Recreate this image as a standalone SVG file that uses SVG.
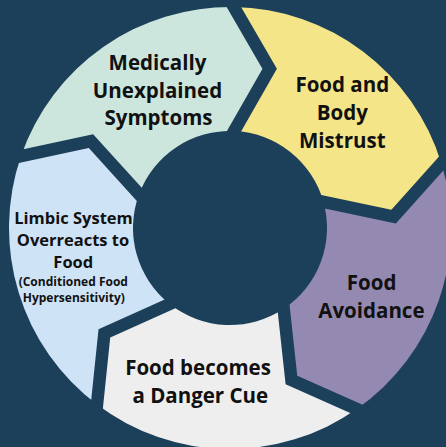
<svg xmlns="http://www.w3.org/2000/svg" width="446" height="447" viewBox="0 0 446 447">
<style>
.seg{stroke:none}
.gap{fill:none;stroke:#1c3f5a;stroke-width:12.5;stroke-linejoin:miter;stroke-miterlimit:10}
.lbl{font-family:"Open Sans","Noto Sans","Liberation Sans",sans-serif;font-weight:700;fill:#111111;text-anchor:middle}
.big{font-size:20.5px}
.mid{font-size:16.5px}
.sml{font-size:12px}
</style>
<rect x="0" y="0" width="446" height="447" fill="#1c3f5a"/>
<g id="node-medically">
<path class="seg" fill="#cce5dd" d="M139.08,194.19 L90.92,141.09 L21.04,156.05 A221,221 0 0 1 233.86,7.03 L269.68,68.87 L234.06,131.09 A97,97 0 0 0 139.08,194.19 Z"/>
</g>
<g id="node-mistrust">
<path class="seg" fill="#f4e589" d="M234.06,131.09 L269.68,68.87 L233.86,7.03 A221,221 0 0 1 441.34,163.39 L393.60,216.56 L323.43,201.91 A97,97 0 0 0 234.06,131.09 Z"/>
</g>
<g id="node-avoidance">
<path class="seg" fill="#9489b0" d="M323.43,201.91 L393.60,216.56 L441.34,163.39 A221,221 0 0 1 356.76,409.03 L291.44,380.06 L283.68,308.79 A97,97 0 0 0 323.43,201.91 Z"/>
</g>
<g id="node-danger">
<path class="seg" fill="#eeeeee" d="M283.68,308.79 L291.44,380.06 L356.76,409.03 A221,221 0 0 1 97.00,404.50 L104.37,333.42 L169.75,304.02 A97,97 0 0 0 283.68,308.79 Z"/>
</g>
<g id="node-limbic">
<path class="seg" fill="#cfe3f7" d="M169.75,304.02 L104.37,333.42 L97.00,404.50 A221,221 0 0 1 21.04,156.05 L90.92,141.09 L139.08,194.19 A97,97 0 0 0 169.75,304.02 Z"/>
</g>
<g id="connectors">
<polyline class="gap" points="226.94,143.53 269.68,68.87 223.11,-11.52"/>
<polyline class="gap" points="309.40,198.98 393.60,216.56 455.66,147.44"/>
<polyline class="gap" points="282.13,294.54 291.44,380.06 376.36,417.72"/>
<polyline class="gap" points="182.83,298.14 104.37,333.42 94.79,425.82"/>
<polyline class="gap" points="148.71,204.81 90.92,141.09 0.08,160.54"/>
</g>
<g id="labels">
<text class="lbl big" x="157.5" y="70">Medically</text>
<text class="lbl big" x="157.5" y="97.5">Unexplained</text>
<text class="lbl big" x="158.5" y="125">Symptoms</text>
<text class="lbl big" x="342.3" y="92">Food and</text>
<text class="lbl big" x="342.3" y="120">Body</text>
<text class="lbl big" x="342.3" y="148">Mistrust</text>
<text class="lbl big" x="371.6" y="290">Food</text>
<text class="lbl big" x="371.4" y="317.7">Avoidance</text>
<text class="lbl big" x="198" y="375">Food becomes</text>
<text class="lbl big" x="200.3" y="402.5">a Danger Cue</text>
<text class="lbl mid" x="73.5" y="224">Limbic System</text>
<text class="lbl mid" x="73" y="246">Overreacts to</text>
<text class="lbl mid" x="73.3" y="267.7">Food</text>
<text class="lbl sml" x="73.3" y="286">(Conditioned Food</text>
<text class="lbl sml" x="73.8" y="301.7">Hypersensitivity)</text>
</g>
</svg>
